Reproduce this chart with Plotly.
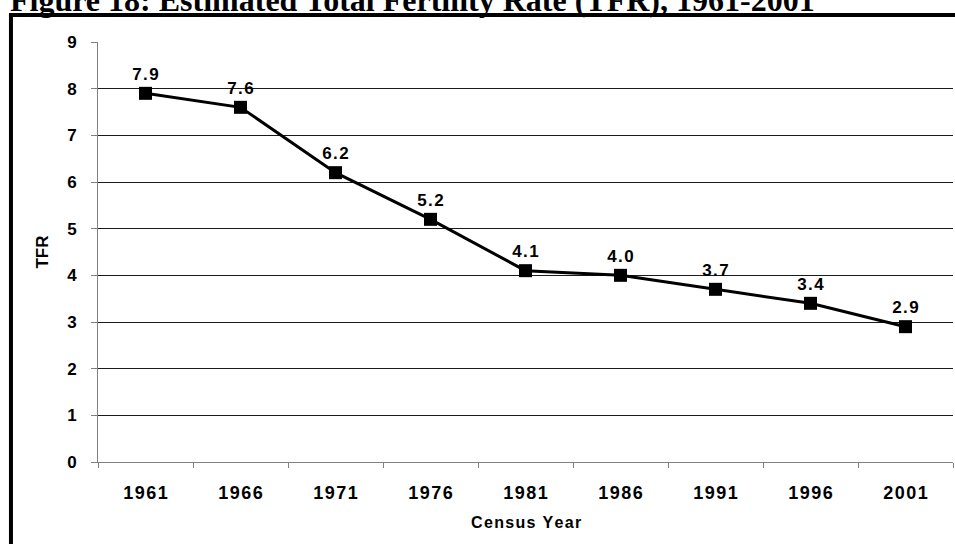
import plotly.graph_objects as go

# ── Data ───────────────────────────────────────────────────────────────────
YEARS = ["1961", "1966", "1971", "1976", "1981", "1986", "1991", "1996", "2001"]
TFR   = [7.9, 7.6, 6.2, 5.2, 4.1, 4.0, 3.7, 3.4, 2.9]
Y_TICKS = [0, 1, 2, 3, 4, 5, 6, 7, 8, 9]

TITLE = "Figure 18: Estimated Total Fertility Rate (TFR), 1961-2001"
HAIR  = "\u200a"


def spaced(s):
    # mimic the loose letter spacing of the original labels
    return HAIR.join(s)


FONT = "Arial, Liberation Sans, sans-serif"

fig = go.Figure()
fig.add_trace(go.Scatter(
    x            = YEARS,
    y            = TFR,
    mode         = "lines+markers+text",
    line         = dict(color="#000000", width=3),
    marker       = dict(symbol="square", size=13, color="#000000"),
    text         = [spaced(f"{v:.1f}") for v in TFR],
    textposition = "top center",
    textfont     = dict(family=FONT, size=17, color="#000000", weight="bold"),
    cliponaxis   = False,
    showlegend   = False,
))

fig.update_layout(
    width         = 955,
    height        = 544,
    paper_bgcolor = "#FFFFFF",
    plot_bgcolor  = "#FFFFFF",
    margin        = dict(l=98, r=2, t=42, b=82),
    font          = dict(family=FONT, color="#000000"),
    xaxis = dict(
        type            = "category",
        tickvals        = YEARS,
        ticktext        = [spaced(y) for y in YEARS],
        tickson         = "boundaries",
        ticks           = "outside",
        ticklen         = 5,
        tickcolor       = "#808080",
        showline        = True,
        linecolor       = "#808080",
        linewidth       = 1,
        showgrid        = False,
        tickfont        = dict(family=FONT, size=18, color="#000000", weight="bold"),
        ticklabelstandoff = 14,
        range           = [-0.5, 8.5],
    ),
    yaxis = dict(
        range           = [0, 9],
        tickvals        = Y_TICKS,
        ticks           = "outside",
        ticklen         = 6,
        tickcolor       = "#808080",
        showline        = True,
        linecolor       = "#808080",
        linewidth       = 1,
        showgrid        = True,
        gridcolor       = "#1a1a1a",
        gridwidth       = 1,
        zeroline        = False,
        tickfont        = dict(family=FONT, size=17, color="#000000", weight="bold"),
        ticklabelstandoff = 11,
    ),
    annotations = [
        dict(text=TITLE, xref="paper", yref="paper", x=-0.105, y=1.101,
             xanchor="left", yanchor="middle", showarrow=False,
             font=dict(family="Times New Roman, Liberation Serif, serif", size=32,
                       color="#000000", weight="bold")),
        dict(text=spaced("Census Year"), xref="paper", yref="paper", x=0.5, y=-0.145,
             xanchor="center", yanchor="middle", showarrow=False,
             font=dict(family=FONT, size=16, color="#000000", weight="bold")),
        dict(text="TFR", xref="paper", yref="paper", x=-0.066, y=0.5, textangle=-90,
             xanchor="center", yanchor="middle", showarrow=False,
             font=dict(family=FONT, size=17, color="#000000", weight="bold")),
    ],
    shapes = [
        dict(type="rect", xref="paper", yref="paper",
             x0=-0.1018, x1=1.2, y0=-0.4, y1=1.0643,
             line=dict(color="#000000", width=4), layer="below"),
    ],
)

# drop the default 8px body margin so the figure sits at the page's corner
fig.write_html("out.html", config=dict(displayModeBar=False),
               post_script="document.body.style.margin = '0';")
